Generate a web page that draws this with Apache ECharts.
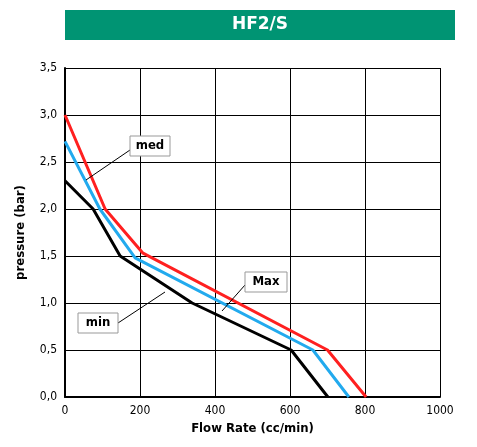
<!DOCTYPE html>
<html><head><meta charset="utf-8">
<script src="https://cdn.jsdelivr.net/npm/echarts@6/dist/echarts.min.js"></script>
<style>body{margin:0;background:#fff}#c{width:477px;height:447px}</style>
</head><body><div id="c"></div>
<script>
var maxData = [[0,3.0],[107,2.0],[208,1.53],[700,0.5],[803,0]];
var medData = [[0,2.72],[93,2.0],[187,1.48],[661,0.5],[757,0]];
var minData = [[0,2.3],[75,2.0],[147,1.5],[339,1.0],[603,0.5],[701,0]];
var xTicks = [0,200,400,600,800,1000];
var yTicks = [0,0.5,1,1.5,2,2.5,3,3.5];

var chart = echarts.init(document.getElementById('c'));
function ser(d, c) {
	return {type:'line', data:d, symbol:'none', lineStyle:{color:c, width:3}, z:5};
}
var labelStyle = {fontSize:13, fontWeight:'bold', fontFamily:'DejaVu Sans Condensed', fill:'#000'};
function box(x, y, w, t, lx1, ly1, lx2, ly2) {
	return [
		{type:'line', shape:{x1:lx1,y1:ly1,x2:lx2,y2:ly2}, style:{stroke:'#000', lineWidth:1}, z:10},
		{type:'rect', shape:{x:x,y:y,width:w,height:20}, style:{fill:'#fff', stroke:'#999', lineWidth:1}, z:11},
		{type:'text', x:x+w/2, y:y+10, style:Object.assign({text:t, align:'center', verticalAlign:'middle'}, labelStyle), z:12}
	];
}
chart.setOption({
	animation:false,
	grid:{left:65, right:37, top:68, bottom:50},
	xAxis:{type:'value', min:0, max:1000, interval:200,
		name:'Flow Rate (cc/min)', nameLocation:'middle', nameGap:22,
		nameTextStyle:{fontSize:13, fontWeight:'bold', fontFamily:'DejaVu Sans Condensed', color:'#000'},
		axisLine:{lineStyle:{color:'#000', width:2}}, axisTick:{show:false},
		axisLabel:{color:'#000', fontSize:12, fontFamily:'DejaVu Sans Condensed',
			formatter:function(v){return String(v);}},
		splitLine:{lineStyle:{color:'#000', width:1}}},
	yAxis:{type:'value', min:0, max:3.5, interval:0.5,
		name:'pressure (bar)', nameLocation:'middle', nameGap:38,
		nameTextStyle:{fontSize:13, fontWeight:'bold', fontFamily:'DejaVu Sans Condensed', color:'#000'},
		axisLine:{show:true, lineStyle:{color:'#000', width:2}}, axisTick:{show:false},
		axisLabel:{color:'#000', fontSize:12, fontFamily:'DejaVu Sans Condensed',
			formatter:function(v){return v.toFixed(1).replace('.', ',');}},
		splitLine:{lineStyle:{color:'#000', width:1}}},
	series:[ser(minData,'#000'), ser(medData,'#22aaee'), ser(maxData,'#ff2020')],
	graphic:[
		{type:'rect', shape:{x:65,y:10,width:390,height:30}, style:{fill:'#009473'}},
		{type:'text', x:260, y:25, style:{text:'HF2/S', fill:'#fff', fontSize:17, fontWeight:'bold',
			fontFamily:'DejaVu Sans', align:'center', verticalAlign:'middle'}}
	].concat(box(130,136,40,'med',130,150,86,180))
	 .concat(box(245,272,42,'Max',245,285,222,311))
	 .concat(box(78,313,40,'min',118,323,165,292))
});
</script></body></html>
